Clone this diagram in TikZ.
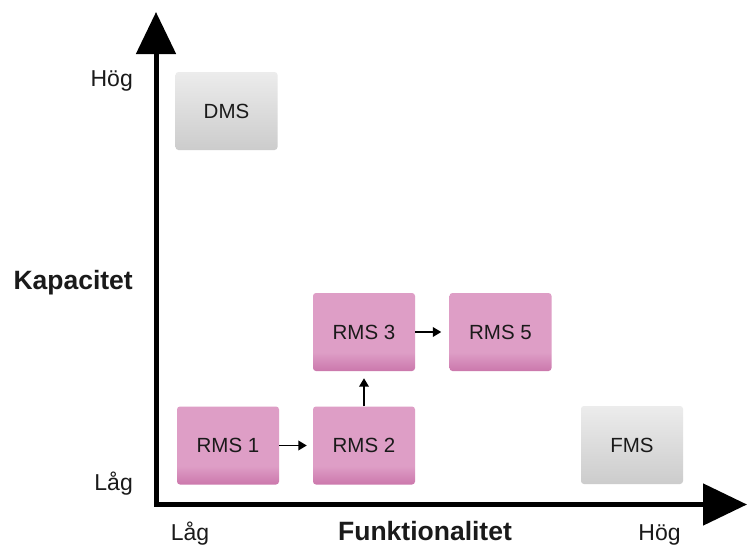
\documentclass[tikz,border=0pt]{standalone}
\usepackage{fontspec}
\setmainfont{Liberation Sans}
\usetikzlibrary{arrows.meta}
\definecolor{pinkA}{HTML}{DE9EC6}
\definecolor{pinkB}{HTML}{CB78AC}
\definecolor{grayA}{HTML}{ECECEC}
\definecolor{grayB}{HTML}{CCCCCC}
\definecolor{txt}{HTML}{1A1A1A}
\pgfdeclareverticalshading{pinkshade}{100bp}{color(0bp)=(pinkB); color(25bp)=(pinkB); color(37bp)=(pinkA); color(100bp)=(pinkA)}
\tikzset{
  box/.style={minimum width=102pt, minimum height=78pt, rounded corners=3pt,
    inner sep=0pt, font=\fontsize{20.5}{22}\selectfont, text=txt},
  pinkbox/.style={box, shading=pinkshade},
  graybox/.style={box, top color=grayA, bottom color=grayB},
  axis/.style={line width=5pt, draw=black, {Triangle[length=42pt,width=39pt]}-{Triangle[length=44pt,width=41pt]}},
  flow/.style={line width=1.9pt, -{Triangle[length=8.5pt,width=9.5pt]}},
  lbl/.style={font=\fontsize{23}{25}\selectfont, text=txt, inner sep=0pt},
  blbl/.style={font=\fontsize{26.5}{28}\selectfont\bfseries, text=txt, inner sep=0pt}
}
\begin{document}
\begin{tikzpicture}[x=1pt,y=-1pt]
\useasboundingbox[fill=white] (0,0) rectangle (747,546);
\coordinate (ytip) at (156,12);
\coordinate (orig) at (156,504.5);
\coordinate (xtip) at (747,504.5);
\draw[axis] (ytip) -- (orig) -- (xtip);

\node[graybox] (dms) at (226.5,111) {DMS};
\node[pinkbox] (rms1) at (228,445.5) {RMS 1};
\node[pinkbox] (rms2) at (364,445.5) {RMS 2};
\node[pinkbox] (rms3) at (364,332) {RMS 3};
\node[pinkbox] (rms5) at (500.5,332) {RMS 5};
\node[graybox] (fms) at (632,445) {FMS};

\draw[flow, shorten >=6pt] (rms1) -- (rms2);
\draw[flow, shorten >=7pt] (rms2) -- (rms3);
\draw[flow, shorten >=8pt] (rms3) -- (rms5);

\node[lbl, anchor=base east] (yhi) at (133,86) {Hög};
\node[blbl, anchor=base east] (ylab) at (133,289) {Kapacitet};
\node[lbl, anchor=base east] (ylo) at (133,490) {Låg};
\node[lbl, anchor=base] (xlo) at (190,540) {Låg};
\node[blbl, anchor=base] (xlab) at (425,540) {Funktionalitet};
\node[lbl, anchor=base] (xhi) at (659.5,540) {Hög};
\end{tikzpicture}
\end{document}
